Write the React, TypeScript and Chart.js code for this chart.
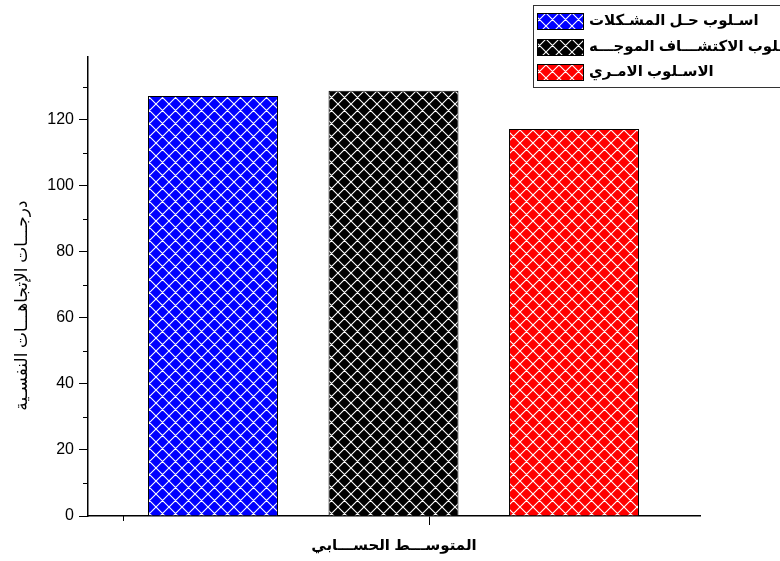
import { useEffect, useRef } from 'react';
import { Chart, registerables } from 'chart.js';

Chart.register(...registerables);

// ---- data ----
const seriesNames = ['اسـلوب حـل المشـكلات', 'اسـلوب الاكتشـــاف الموجـــه', 'الاسـلوب الامـري'];
const seriesValues = [127.2, 128.8, 117.2];
const seriesPositions = [1, 2, 3];
const seriesColors = ['#0000ff', '#000000', '#ff0000'];
const yMinorTicks = [10, 30, 50, 70, 90, 110, 130];
const xMajorTicks = [2.2];
const xMinorTicks = [0.5];
const xTitle = 'المتوســـط الحســـابي';
const yTitle = 'درجـــات الإتجاهـــات النفسـية';

const FONT = '"Liberation Sans", "DejaVu Sans", Arial, sans-serif';

function makePattern(color: string): CanvasPattern | string {
  const s = 13;
  const c = document.createElement('canvas');
  c.width = s;
  c.height = s;
  const g = c.getContext('2d');
  if (!g) return color;
  g.fillStyle = color;
  g.fillRect(0, 0, s, s);
  g.strokeStyle = 'rgba(255,255,255,1)';
  g.lineWidth = 1.1;
  g.beginPath();
  for (const d of [-s, 0, s]) {
    g.moveTo(d - 1, -1);
    g.lineTo(d + s + 1, s + 1);
    g.moveTo(d + s + 1, -1);
    g.lineTo(d - 1, s + 1);
  }
  g.stroke();
  return g.createPattern(c, 'repeat') || color;
}

const extrasPlugin = {
  id: 'extras',
  afterDraw(chart: any) {
    const { ctx, chartArea, scales } = chart;
    const y = scales.y;
    const x = scales.x;
    ctx.save();
    ctx.strokeStyle = '#000';
    ctx.lineWidth = 1;
    // minor ticks
    for (const v of yMinorTicks) {
      const py = Math.round(y.getPixelForValue(v)) + 0.5;
      ctx.beginPath();
      ctx.moveTo(chartArea.left - 5, py);
      ctx.lineTo(chartArea.left, py);
      ctx.stroke();
    }
    for (const v of xMinorTicks) {
      const px = Math.round(x.getPixelForValue(v)) + 0.5;
      ctx.beginPath();
      ctx.moveTo(px, chartArea.bottom);
      ctx.lineTo(px, chartArea.bottom + 5);
      ctx.stroke();
    }
    // axis titles
    ctx.fillStyle = '#000';
    ctx.textAlign = 'center';
    ctx.textBaseline = 'middle';
    ctx.font = `bold 15px ${FONT}`;
    ctx.fillText(xTitle, (chartArea.left + chartArea.right) / 2, 546);
    ctx.save();
    ctx.translate(22, (chartArea.top + chartArea.bottom) / 2 + 19);
    ctx.rotate(-Math.PI / 2);
    ctx.font = `17px ${FONT}`;
    ctx.fillText(yTitle, 0, 0);
    ctx.restore();
    // legend
    const bx = 533;
    const by = 5;
    ctx.fillStyle = '#fff';
    ctx.fillRect(bx, by, 300, 82);
    ctx.strokeStyle = '#333';
    ctx.lineWidth = 1;
    ctx.strokeRect(bx + 0.5, by + 0.5, 300, 82);
    const ds = chart.data.datasets[0];
    seriesNames.forEach((name, i) => {
      const cy = 21 + i * 25.5;
      const sx = 537;
      const sy = Math.round(cy - 8);
      ctx.fillStyle = ds.backgroundColor[i];
      ctx.fillRect(sx, sy, 46, 16);
      ctx.strokeStyle = '#000';
      ctx.strokeRect(sx + 0.5, sy + 0.5, 46, 16);
      ctx.fillStyle = '#000';
      ctx.font = `bold 15px ${FONT}`;
      ctx.textAlign = 'left';
      ctx.textBaseline = 'middle';
      ctx.fillText(name, 589, cy);
    });
    ctx.restore();
  },
};

export default function App() {
  const ref = useRef<HTMLCanvasElement>(null);
  useEffect(() => {
    if (!ref.current) return;
    const patterns = seriesColors.map(makePattern);
    const chart = new Chart(ref.current, {
      type: 'bar',
      data: {
        datasets: [
          {
            label: 'values',
            data: seriesValues.map((v, i) => ({ x: seriesPositions[i], y: v })) as any,
            backgroundColor: patterns as any,
            borderColor: '#000',
            borderWidth: 1,
            barPercentage: 0.72,
            categoryPercentage: 1,
          },
        ],
      },
      options: {
        animation: false,
        responsive: false,
        devicePixelRatio: 1,
        layout: { padding: { top: 57, right: 80, left: 0, bottom: 0 } },
        plugins: { legend: { display: false }, tooltip: { enabled: false } },
        scales: {
          x: {
            type: 'linear',
            min: 0.3075,
            max: 3.698,
            offset: false,
            afterBuildTicks: (scale: any) => {
              scale.ticks = xMajorTicks.map((v) => ({ value: v }));
            },
            afterFit: (scale: any) => {
              scale.height = 45;
            },
            ticks: { display: false },
            grid: {
              display: true,
              drawOnChartArea: false,
              drawTicks: true,
              tickLength: 9,
              tickColor: '#000',
              tickWidth: 1,
              offset: false,
            },
            border: { display: true, color: '#000', width: 1.5 },
          },
          y: {
            type: 'linear',
            min: 0,
            max: 139,
            afterFit: (scale: any) => {
              scale.width = 88;
            },
            ticks: {
              stepSize: 20,
              includeBounds: false,
              color: '#000',
              font: { family: FONT, size: 16 },
              padding: 5,
            },
            grid: {
              display: true,
              drawOnChartArea: false,
              drawTicks: true,
              tickLength: 9,
              tickColor: '#000',
              tickWidth: 1,
            },
            border: { display: true, color: '#000', width: 1.5 },
          },
        },
      },
      plugins: [extrasPlugin],
    });
    return () => chart.destroy();
  }, []);
  return (
    <div style={{ position: 'absolute', left: 0, top: 0, width: 780, height: 561, background: '#fff' }}>
      <canvas ref={ref} width={780} height={561} style={{ width: 780, height: 561, display: 'block' }} />
    </div>
  );
}
